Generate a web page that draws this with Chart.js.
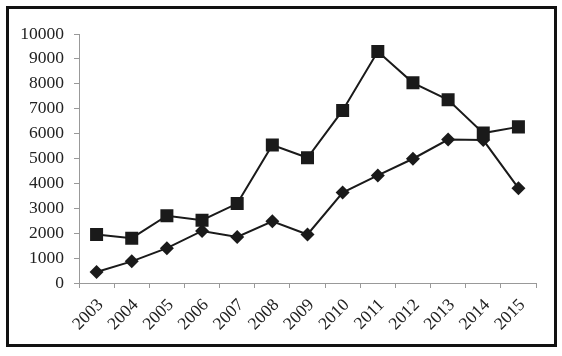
<!DOCTYPE html>
<html>
<head>
<meta charset="utf-8">
<script src="https://cdn.jsdelivr.net/npm/chart.js@4"></script>
<style>
html,body{margin:0;padding:0;background:#fff;}
#wrap{position:relative;width:562px;height:356px;}
</style>
</head>
<body>
<div id="wrap"><canvas id="c" width="562" height="356"></canvas></div>
<script>
const years = ['2003','2004','2005','2006','2007','2008','2009','2010','2011','2012','2013','2014','2015'];
const squareSeries = [1950, 1800, 2700, 2520, 3190, 5540, 5030, 6930, 9300, 8040, 7360, 6020, 6270];
const diamondSeries = [440, 870, 1400, 2090, 1850, 2480, 1950, 3630, 4320, 4990, 5760, 5740, 3810];
const yTicks = [0, 1000, 2000, 3000, 4000, 5000, 6000, 7000, 8000, 9000, 10000];

const frame = {
  id: 'frame',
  afterDraw(chart) {
    const ctx = chart.ctx;
    ctx.save();
    ctx.strokeStyle = '#111';
    ctx.lineWidth = 3;
    ctx.strokeRect(7.5, 7.5, 548, 338);
    ctx.restore();
  }
};

const yFont = {family: '"Liberation Serif", "Times New Roman", serif', size: 17.5};
const xFont = {family: '"Liberation Serif", "Times New Roman", serif', size: 17.5};

new Chart(document.getElementById('c'), {
  type: 'line',
  data: {
    labels: years,
    datasets: [
      {
        data: squareSeries,
        borderColor: '#1a1a1a',
        backgroundColor: '#1a1a1a',
        borderWidth: 2,
        pointStyle: 'rect',
        pointRadius: 9.2,
        pointBorderWidth: 0,
        tension: 0
      },
      {
        data: diamondSeries,
        borderColor: '#1a1a1a',
        backgroundColor: '#1a1a1a',
        borderWidth: 2,
        pointStyle: 'rectRot',
        pointRadius: 7,
        pointBorderWidth: 0,
        tension: 0
      }
    ]
  },
  options: {
    responsive: false,
    animation: false,
    layout: {padding: {left: 0, right: 26, top: 34, bottom: 0}},
    plugins: {legend: {display: false}, tooltip: {enabled: false}},
    scales: {
      x: {
        offset: true,
        grid: {offset: true, drawOnChartArea: false, drawTicks: true, tickLength: 5, color: '#999'},
        border: {display: true, color: '#999', width: 1},
        ticks: {font: xFont, color: '#222', minRotation: 45, maxRotation: 45, autoSkip: false, padding: 7, labelOffset: 4},
        afterFit(scale) { scale.height = 73; }
      },
      y: {
        min: 0,
        max: 10000,
        afterBuildTicks(scale) { scale.ticks = yTicks.map(v => ({value: v})); },
        grid: {drawOnChartArea: false, drawTicks: true, tickLength: 5, color: '#999'},
        border: {display: true, color: '#999', width: 1},
        ticks: {font: yFont, color: '#222', padding: 10, callback: v => String(v)},
        afterFit(scale) { scale.width = 79; }
      }
    }
  },
  plugins: [frame]
});
</script>
</body>
</html>
